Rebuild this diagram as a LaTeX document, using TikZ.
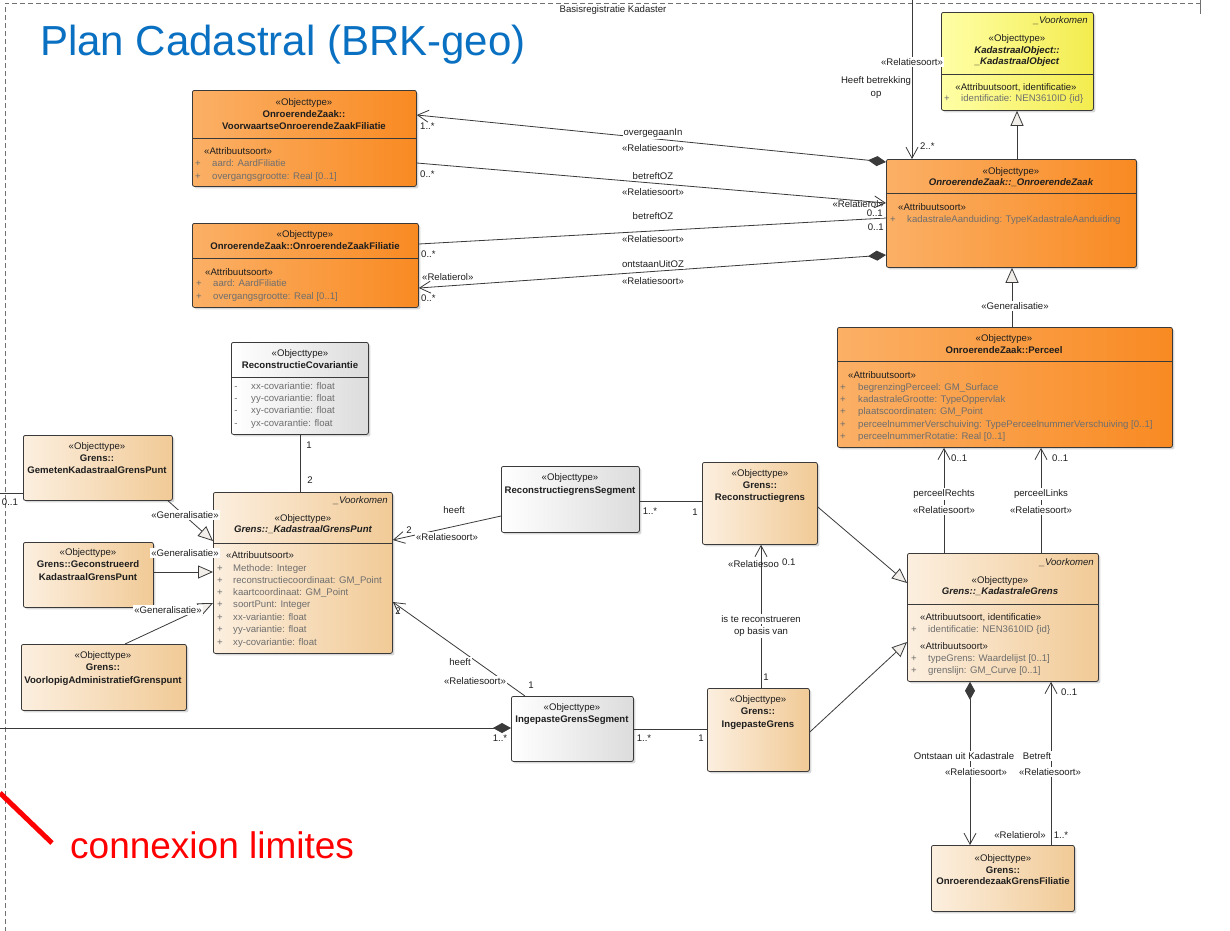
\documentclass[tikz,border=0pt]{standalone}
\usepackage{fontspec}
\setmainfont{Liberation Sans}
\usetikzlibrary{arrows.meta,shadows}
\definecolor{boxline}{HTML}{3A3A3A}
\definecolor{orL}{HTML}{FBB066}
\definecolor{orR}{HTML}{F98A22}
\definecolor{tanL}{HTML}{FCEFDF}
\definecolor{tanR}{HTML}{F1CA96}
\definecolor{grL}{HTML}{FFFFFF}
\definecolor{grR}{HTML}{DCDCDC}
\definecolor{yeL}{HTML}{FFFFA6}
\definecolor{yeR}{HTML}{F3EC4E}
\definecolor{attrgray}{HTML}{6E6E6E}
\definecolor{txtdark}{HTML}{1E1E1E}
\definecolor{connc}{HTML}{3A3A3A}
\definecolor{genfill}{HTML}{F2EFEA}
\definecolor{titleblue}{HTML}{0A70C2}
\definecolor{framegray}{HTML}{707070}
\newcounter{tn}
\newcommand\utx[3][]{\stepcounter{tn}\node[txt,#1] (t\arabic{tn}) at (#2) {#3};}
\newcommand\ubox[6]{\node[#2,minimum width={(#5-#3)*1pt},minimum height={(#6-#4)*1pt},anchor=north west] (#1) at (#3,#4) {};}
\newcommand\uattr[5]{\utx[attrtxt]{#1,#3}{#4}\utx[attrtxt,lft]{#2,#3}{#5}}
\tikzset{
 txt/.style={inner sep=0pt, anchor=mid, font=\fontsize{9.6}{11}\selectfont, text=txtdark},
 nm/.style={font=\fontsize{9.6}{11}\selectfont\bfseries},
 nmi/.style={font=\fontsize{9.6}{11}\selectfont\bfseries\itshape},
 itl/.style={font=\fontsize{9.6}{11}\selectfont\itshape},
 attrtxt/.style={text=attrgray},
 lft/.style={anchor=mid west},
 rgt/.style={anchor=mid east},
 lbl/.style={fill=white, inner xsep=1pt, inner ysep=1.5pt},
 ubase/.style={draw=boxline, line width=0.8pt, rounded corners=2pt, inner sep=0pt,
   drop shadow={shadow xshift=2pt, shadow yshift=-2pt, opacity=0.3}},
 orbox/.style={ubase, left color=orL, right color=orR},
 tanbox/.style={ubase, left color=tanL, right color=tanR},
 grbox/.style={ubase, left color=grL, right color=grR},
 yebox/.style={ubase, left color=yeL, right color=yeR},
 divl/.style={draw=boxline, line width=0.8pt},
 assoc/.style={draw=connc, line width=0.8pt},
 framel/.style={draw=framegray, line width=0.7pt, dash pattern=on 5pt off 3pt},
 oarr/.tip={Straight Barb[length=11pt,width=12pt]},
 dia/.tip={Diamond[length=18pt,width=10pt]},
 gtri/.tip={Triangle[length=15pt,width=13pt,fill=genfill]},
}
\begin{document}
\begin{tikzpicture}[x=1pt,y=-1pt]
\useasboundingbox (0,0) rectangle (1230,930);
\fill[white] (0,0) rectangle (1230,930);
% frame
\coordinate (fa) at (5,932);
\coordinate (fb) at (5,3);
\coordinate (fc) at (1200,3);
\coordinate (fd) at (1200,0);
\coordinate (fe) at (1200,14);
\draw[framel] (fa) -- (fb) -- (fc);
\draw[draw=framegray, line width=0.7pt] (fd) -- (fe);
% boxes
\ubox{vozf}{orbox}{192}{90}{416}{186}
\ubox{ozf}{orbox}{192}{223}{418}{307}
\ubox{ko}{yebox}{941}{12}{1093}{110}
\ubox{oz}{orbox}{886}{159}{1136}{267}
\ubox{perceel}{orbox}{837}{327}{1172}{447}
\ubox{rc}{grbox}{231}{342}{368}{434}
\ubox{gemeten}{tanbox}{23}{435}{172}{500}
\ubox{kgp}{tanbox}{213}{492}{392}{653}
\ubox{geconstrueerd}{tanbox}{23}{542}{153}{607}
\ubox{voorlopig}{tanbox}{21}{644}{186}{710}
\ubox{rsegment}{grbox}{501}{466}{639}{532}
\ubox{rgrens}{tanbox}{702}{462}{817}{544}
\ubox{igsegment}{grbox}{511}{696}{633}{761}
\ubox{igrens}{tanbox}{707}{688}{809}{771}
\ubox{kgrens}{tanbox}{907}{553}{1098}{681}
\ubox{ogf}{tanbox}{931}{845}{1074}{911}
% dividers
\draw[divl] (192,138) -- (416,138);
\draw[divl] (192,258) -- (418,258);
\draw[divl] (941,74) -- (1093,74);
\draw[divl] (886,193) -- (1136,193);
\draw[divl] (837,361) -- (1172,361);
\draw[divl] (231,377) -- (368,377);
\draw[divl] (213,543) -- (392,543);
\draw[divl] (907,604) -- (1098,604);
% connectors
\draw[assoc, oarr-dia] (vozf.east |- 0,115) -- (oz.west |- 0,162);
\draw[assoc, -oarr] (vozf.east |- 0,163) -- (oz.west |- 0,203);
\draw[assoc] (ozf.east |- 0,244) -- (oz.west |- 0,218);
\draw[assoc, dia-oarr] (oz.west |- 0,255) -- (ozf.east |- 0,288);
\coordinate (topend) at (912,0);
\draw[assoc, -oarr] (topend) -- (oz.north -| 912,0);
\draw[assoc, -gtri] (oz.north -| 1017,0) -- (ko.south -| 1017,0);
\draw[assoc, -gtri] (perceel.north -| 1012,0) -- (oz.south -| 1012,0);
\draw[assoc, -oarr] (kgrens.north -| 944,0) -- (perceel.south -| 944,0);
\draw[assoc, -oarr] (kgrens.north -| 1041,0) -- (perceel.south -| 1041,0);
\draw[assoc, dia-oarr] (kgrens.south -| 970,0) -- (ogf.north -| 970,0);
\draw[assoc, -oarr] (ogf.north -| 1051,0) -- (kgrens.south -| 1051,0);
\draw[assoc] (rc.south -| 300,0) -- (kgp.north -| 300,0);
\draw[assoc, -gtri] (gemeten.south -| 168,0) -- (kgp.west |- 0,541);
\draw[assoc, -gtri] (geconstrueerd.east |- 0,572) -- (kgp.west |- 0,572);
\draw[assoc, -gtri] (voorlopig.north -| 125,0) -- (kgp.west |- 0,603);
\coordinate (leftA) at (0,493);
\draw[assoc] (gemeten.west |- 0,493) -- (leftA);
\draw[assoc, -oarr] (rsegment.west |- 0,516) -- (kgp.east |- 0,540);
\draw[assoc, -oarr] (igsegment.north -| 525,0) -- (kgp.east |- 0,602);
\draw[assoc] (rsegment.east |- 0,501) -- (rgrens.west |- 0,501);
\draw[assoc, -oarr] (igrens.north -| 761,0) -- (rgrens.south -| 761,0);
\draw[assoc] (igsegment.east |- 0,729) -- (igrens.west |- 0,729);
\coordinate (leftB) at (0,728);
\draw[assoc, -dia] (leftB) -- (igsegment.west |- 0,728);
\draw[assoc, -gtri] (rgrens.east |- 0,507) -- (kgrens.west |- 0,583);
\draw[assoc, -gtri] (igrens.east |- 0,732) -- (kgrens.west |- 0,642);
% red annotation
\coordinate (r1) at (0,793);
\coordinate (r2) at (52,843);
\draw[red, line width=5pt] (r1) -- (r2);
\node[anchor=base west, inner sep=0pt, font=\fontsize{37}{42}\selectfont, text=red] (connlim) at (70,858) {connexion limites};
% title
\node[anchor=base west, inner sep=0pt, font=\fontsize{42}{48}\selectfont, text=titleblue] (title) at (40,55) {Plan Cadastral (BRK-geo)};
\utx{613,10}{Basisregistratie Kadaster}
% vozf
\utx{304,103}{«Objecttype»}
\utx[nm]{304,115}{OnroerendeZaak::}
\utx[nm]{304,127}{VoorwaartseOnroerendeZaakFiliatie}
\utx[lft]{204,152}{«Attribuutsoort»}
\uattr{198}{212}{164}{+}{aard: AardFiliatie}
\uattr{198}{212}{177}{+}{overgangsgrootte: Real [0..1]}
% ozf
\utx{305,235}{«Objecttype»}
\utx[nm]{305,247}{OnroerendeZaak::OnroerendeZaakFiliatie}
\utx[lft]{205,273}{«Attribuutsoort»}
\uattr{199}{213}{284}{+}{aard: AardFiliatie}
\uattr{199}{213}{297}{+}{overgangsgrootte: Real [0..1]}
% ko
\utx[itl,rgt]{1088,21}{\_Voorkomen}
\utx{1017,39}{«Objecttype»}
\utx[nmi]{1017,51}{KadastraalObject::}
\utx[nmi]{1017,62}{\_KadastraalObject}
\utx{1016,88}{«Attribuutsoort, identificatie»}
\uattr{947}{961}{99}{+}{identificatie: NEN3610ID \{id\}}
% oz
\utx{1011,172}{«Objecttype»}
\utx[nmi]{1011,183}{OnroerendeZaak::\_OnroerendeZaak}
\utx[lft]{898,208}{«Attribuutsoort»}
\uattr{893}{907}{220}{+}{kadastraleAanduiding: TypeKadastraleAanduiding}
% perceel
\utx{1004,339}{«Objecttype»}
\utx[nm]{1004,351}{OnroerendeZaak::Perceel}
\utx[lft]{848,376}{«Attribuutsoort»}
\uattr{843}{858}{388}{+}{begrenzingPerceel: GM\_Surface}
\uattr{843}{858}{400}{+}{kadastraleGrootte: TypeOppervlak}
\uattr{843}{858}{412}{+}{plaatscoordinaten: GM\_Point}
\uattr{843}{858}{425}{+}{perceelnummerVerschuiving: TypePerceelnummerVerschuiving [0..1]}
\uattr{843}{858}{437}{+}{perceelnummerRotatie: Real [0..1]}
% rc
\utx{300,354}{«Objecttype»}
\utx[nm]{300,366}{ReconstructieCovariantie}
\uattr{236}{251}{387}{-}{xx-covariantie: float}
\uattr{236}{251}{399}{-}{yy-covariantie: float}
\uattr{236}{251}{411}{-}{xy-covariantie: float}
\uattr{236}{251}{424}{-}{yx-covarantie: float}
% gemeten
\utx{97,447}{«Objecttype»}
\utx[nm]{97,459}{Grens::}
\utx[nm]{97,471}{GemetenKadastraalGrensPunt}
% kgp
\utx[itl,rgt]{388,501}{\_Voorkomen}
\utx{303,519}{«Objecttype»}
\utx[nmi]{303,530}{Grens::\_KadastraalGrensPunt}
\utx[lft]{226,556}{«Attribuutsoort»}
\uattr{220}{233}{569}{+}{Methode: Integer}
\uattr{220}{233}{581}{+}{reconstructiecoordinaat: GM\_Point}
\uattr{220}{233}{593}{+}{kaartcoordinaat: GM\_Point}
\uattr{220}{233}{605}{+}{soortPunt: Integer}
\uattr{220}{233}{618}{+}{xx-variantie: float}
\uattr{220}{233}{630}{+}{yy-variantie: float}
\uattr{220}{233}{643}{+}{xy-covariantie: float}
% geconstrueerd
\utx{88,553}{«Objecttype»}
\utx[nm]{88,565}{Grens::Geconstrueerd}
\utx[nm]{88,578}{KadastraalGrensPunt}
% voorlopig
\utx{103,656}{«Objecttype»}
\utx[nm]{103,668}{Grens::}
\utx[nm]{103,681}{VoorlopigAdministratiefGrenspunt}
% rsegment
\utx{570,478}{«Objecttype»}
\utx[nm]{570,491}{ReconstructiegrensSegment}
% rgrens
\utx{760,474}{«Objecttype»}
\utx[nm]{760,486}{Grens::}
\utx[nm]{760,498}{Reconstructiegrens}
% igsegment
\utx{572,708}{«Objecttype»}
\utx[nm]{572,720}{IngepasteGrensSegment}
% igrens
\utx{758,700}{«Objecttype»}
\utx[nm]{758,712}{Grens::}
\utx[nm]{758,725}{IngepasteGrens}
% kgrens
\utx[itl,rgt]{1094,563}{\_Voorkomen}
\utx{1000,581}{«Objecttype»}
\utx[nmi]{1000,592}{Grens::\_KadastraleGrens}
\utx[lft]{920,618}{«Attribuutsoort, identificatie»}
\uattr{914}{928}{630}{+}{identificatie: NEN3610ID \{id\}}
\utx[lft]{920,647}{«Attribuutsoort»}
\uattr{914}{928}{659}{+}{typeGrens: Waardelijst [0..1]}
\uattr{914}{928}{671}{+}{grenslijn: GM\_Curve [0..1]}
% ogf
\utx{1003,859}{«Objecttype»}
\utx[nm]{1003,871}{Grens::}
\utx[nm]{1003,882}{OnroerendezaakGrensFiliatie}
% connector labels top
\utx[lbl]{653,133}{overgegaanIn}
\utx[lbl]{653,149}{«Relatiesoort»}
\utx[lft]{420,127}{1..*}
\utx[lbl]{653,177}{betreftOZ}
\utx[lbl]{653,193}{«Relatiesoort»}
\utx[lft]{420,175}{0..*}
\utx[rgt]{884,205}{«Relatierol»}
\utx[rgt,lbl]{884,214}{0..1}
\utx[rgt]{884,228}{0..1}
\utx[lbl]{653,217}{betreftOZ}
\utx[lbl]{653,240}{«Relatiesoort»}
\utx[lft]{421,255}{0..*}
\utx[lbl]{653,265}{ontstaanUitOZ}
\utx[lbl]{653,282}{«Relatiesoort»}
\utx[lft]{422,278}{«Relatierol»}
\utx[lft]{421,299}{0..*}
\utx[lbl]{912,63}{«Relatiesoort»}
\utx{876,81}{Heeft betrekking}
\utx{876,94}{op}
\utx[lft]{920,147}{2..*}
\utx[lbl]{1015,307}{«Generalisatie»}
\utx[lft]{951,459}{0..1}
\utx[lbl]{944,494}{perceelRechts}
\utx[lbl]{944,511}{«Relatiesoort»}
\utx[lft]{1052,459}{0..1}
\utx[lbl]{1041,494}{perceelLinks}
\utx[lbl]{1041,511}{«Relatiesoort»}
\utx[lbl]{964,757}{Ontstaan uit Kadastrale}
\utx[lbl]{976,773}{«Relatiesoort»}
\utx[lbl]{1037,757}{Betreft}
\utx[lbl]{1050,773}{«Relatiesoort»}
\utx[lft]{1061,693}{0..1}
\utx{1020,836}{«Relatierol»}
\utx{1061,836}{1..*}
% left labels
\utx[lbl]{185,516}{«Generalisatie»}
\utx[lbl]{185,554}{«Generalisatie»}
\utx[lbl]{168,611}{«Generalisatie»}
\utx{10,503}{0..1}
\utx{309,446}{1}
\utx{310,481}{2}
\utx{409,531}{2}
\utx[lbl]{454,511}{heeft}
\utx[lbl]{447,538}{«Relatiesoort»}
\utx{398,612}{2}
\utx[lbl]{460,663}{heeft}
\utx[lbl]{475,682}{«Relatiesoort»}
\utx{531,686}{1}
\utx{650,512}{1..*}
\utx{695,513}{1}
\utx[lft]{728,565}{«Relatiesoo}
\utx[lft]{782,563}{0.1}
\utx[lbl]{761,620}{is te reconstrueren}
\utx[lbl]{761,632}{op basis van}
\utx{766,678}{1}
\utx{644,739}{1..*}
\utx{701,739}{1}
\utx{500,739}{1..*}
\end{tikzpicture}
\end{document}
